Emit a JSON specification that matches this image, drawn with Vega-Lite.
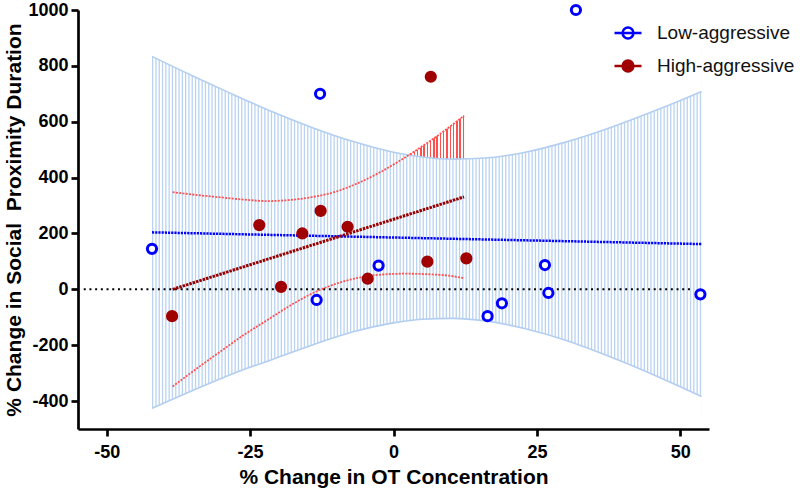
{
"$schema":"https://vega.github.io/schema/vega-lite/v6.json",
"width":631,"height":419,
"autosize":{"type":"none"},
"padding":{"left":78,"top":10,"right":91,"bottom":63},
"background":"white",
"config":{
 "view":{"stroke":null},
 "font":"Liberation Sans",
 "axis":{"domainColor":"#000000","domainWidth":2.7,"tickColor":"#000000","tickWidth":2.7,"tickSize":7,"labelFont":"Liberation Sans","labelFontSize":18,"labelFontWeight":"bold","labelColor":"#000000","titleFont":"Liberation Sans","titleFontSize":21,"titleFontWeight":"bold","titleColor":"#000000","grid":false,"labelFlush":false},
 "axisX":{"labelPadding":7,"titlePadding":5},
 "axisY":{"labelPadding":3,"titlePadding":3}
},
"datasets":{
 "points":[
  {"group":"Low-aggressive","x":-42.1,"y":145},
  {"group":"Low-aggressive","x":-12.8,"y":700},
  {"group":"Low-aggressive","x":-13.4,"y":-38},
  {"group":"Low-aggressive","x":-2.6,"y":85},
  {"group":"Low-aggressive","x":31.8,"y":1000},
  {"group":"Low-aggressive","x":16.4,"y":-96},
  {"group":"Low-aggressive","x":18.9,"y":-50},
  {"group":"Low-aggressive","x":26.4,"y":87},
  {"group":"Low-aggressive","x":27.0,"y":-13},
  {"group":"Low-aggressive","x":53.5,"y":-18},
  {"group":"High-aggressive","x":-38.6,"y":-96},
  {"group":"High-aggressive","x":-19.6,"y":9},
  {"group":"High-aggressive","x":-4.5,"y":38},
  {"group":"High-aggressive","x":-23.4,"y":230},
  {"group":"High-aggressive","x":-15.9,"y":200},
  {"group":"High-aggressive","x":-12.7,"y":281},
  {"group":"High-aggressive","x":-8.0,"y":224},
  {"group":"High-aggressive","x":5.9,"y":99},
  {"group":"High-aggressive","x":12.7,"y":111},
  {"group":"High-aggressive","x":6.5,"y":761}
 ],
 "blueband":[
  {"x":-42.1,"lo":-426,"up":834},
  {"x":-35,"lo":-362,"up":764},
  {"x":-28,"lo":-302,"up":698},
  {"x":-21,"lo":-250,"up":635},
  {"x":-14,"lo":-198,"up":578},
  {"x":-7,"lo":-152,"up":529},
  {"x":0,"lo":-120,"up":491},
  {"x":5,"lo":-107,"up":474},
  {"x":10.3,"lo":-104,"up":466},
  {"x":16,"lo":-113,"up":470},
  {"x":23,"lo":-141,"up":491},
  {"x":30,"lo":-182,"up":527},
  {"x":37,"lo":-235,"up":573},
  {"x":44,"lo":-294,"up":627},
  {"x":50,"lo":-349,"up":676},
  {"x":53.7,"lo":-384,"up":708}
 ],
 "redband":[
  {"x":-38.5,"lo":-348,"up":348},
  {"x":-34,"lo":-279,"up":337},
  {"x":-30,"lo":-220,"up":329},
  {"x":-26,"lo":-162,"up":321},
  {"x":-22,"lo":-110,"up":316},
  {"x":-18,"lo":-58,"up":320},
  {"x":-14,"lo":-13,"up":331},
  {"x":-10,"lo":20,"up":350},
  {"x":-6,"lo":42,"up":382},
  {"x":-2,"lo":53,"up":423},
  {"x":2,"lo":56,"up":472},
  {"x":6,"lo":54,"up":526},
  {"x":10,"lo":48,"up":585},
  {"x":12.3,"lo":40,"up":622}
 ],
 "redvisible":[
  {"x":2.6,"lo":481,"up":481},
  {"x":4,"lo":477,"up":498},
  {"x":6,"lo":472,"up":526},
  {"x":8,"lo":468,"up":555},
  {"x":10,"lo":466,"up":585},
  {"x":12.3,"lo":466,"up":622}
 ],
 "fits":[
  {"group":"Low-aggressive","x":-42.1,"y":204},
  {"group":"Low-aggressive","x":53.7,"y":162},
  {"group":"High-aggressive","x":-38.5,"y":0},
  {"group":"High-aggressive","x":12.3,"y":331}
 ]
},
"layer":[
 {"data":{"values":[{}]},
  "mark":{"type":"rule","stroke":"#b9d3f1","strokeWidth":380,"strokeDash":[1.3,2],"strokeCap":"butt"},
  "encoding":{"x":{"datum":-42.1,"type":"quantitative","scale":{"domain":[-55,55],"nice":false,"zero":false},"axis":{"values":[-50,-25,0,25,50],"title":"% Change in OT Concentration","labelExpr":"'' + datum.value"}},"x2":{"datum":53.7},"y":{"datum":204,"type":"quantitative","scale":{"domain":[-500,1000],"nice":false,"zero":false},"axis":{"values":[-400,-200,0,200,400,600,800,1000],"title":"% Change in Social\u00a0 Proximity Duration","labelExpr":"'' + datum.value"}}}},
 {"data":{"name":"blueband"},
  "mark":{"type":"area","fill":"#ffffff","interpolate":"monotone"},
  "encoding":{"x":{"field":"x","type":"quantitative","scale":{"domain":[-55,55],"nice":false,"zero":false},"axis":{"values":[-50,-25,0,25,50],"title":"% Change in OT Concentration","labelExpr":"'' + datum.value"}},"y":{"field":"up","type":"quantitative","scale":{"domain":[-500,1000],"nice":false,"zero":false},"axis":{"values":[-400,-200,0,200,400,600,800,1000],"title":"% Change in Social\u00a0 Proximity Duration","labelExpr":"'' + datum.value"}},"y2":{"datum":1000}}},
 {"data":{"name":"blueband"},
  "mark":{"type":"area","fill":"#ffffff","interpolate":"monotone"},
  "encoding":{"x":{"field":"x","type":"quantitative","scale":{"domain":[-55,55],"nice":false,"zero":false},"axis":{"values":[-50,-25,0,25,50],"title":"% Change in OT Concentration","labelExpr":"'' + datum.value"}},"y":{"field":"lo","type":"quantitative","scale":{"domain":[-500,1000],"nice":false,"zero":false},"axis":{"values":[-400,-200,0,200,400,600,800,1000],"title":"% Change in Social\u00a0 Proximity Duration","labelExpr":"'' + datum.value"}},"y2":{"datum":-480}}},
 {"data":{"name":"redvisible"},
  "mark":{"type":"area","interpolate":"monotone","fill":{"gradient":"linear","x1":0,"y1":0,"x2":1,"y2":0,"stops":[
   {"offset":0,"color":"#ffffff"},{"offset":0.0341,"color":"#ffffff"},{"offset":0.0341,"color":"#ff5050"},{"offset":0.0588,"color":"#ff5050"},
   {"offset":0.0588,"color":"#ffffff"},{"offset":0.0929,"color":"#ffffff"},{"offset":0.0929,"color":"#ff5050"},{"offset":0.1176,"color":"#ff5050"},
   {"offset":0.1176,"color":"#ffffff"},{"offset":0.1517,"color":"#ffffff"},{"offset":0.1517,"color":"#ff5050"},{"offset":0.1765,"color":"#ff5050"},
   {"offset":0.1765,"color":"#ffffff"},{"offset":0.2106,"color":"#ffffff"},{"offset":0.2106,"color":"#ff5050"},{"offset":0.2353,"color":"#ff5050"},
   {"offset":0.2353,"color":"#ffffff"},{"offset":0.2694,"color":"#ffffff"},{"offset":0.2694,"color":"#ff5050"},{"offset":0.2941,"color":"#ff5050"},
   {"offset":0.2941,"color":"#ffffff"},{"offset":0.3282,"color":"#ffffff"},{"offset":0.3282,"color":"#ff5050"},{"offset":0.3529,"color":"#ff5050"},
   {"offset":0.3529,"color":"#ffffff"},{"offset":0.3870,"color":"#ffffff"},{"offset":0.3870,"color":"#ff5050"},{"offset":0.4118,"color":"#ff5050"},
   {"offset":0.4118,"color":"#ffffff"},{"offset":0.4459,"color":"#ffffff"},{"offset":0.4459,"color":"#ff5050"},{"offset":0.4706,"color":"#ff5050"},
   {"offset":0.4706,"color":"#ffffff"},{"offset":0.5047,"color":"#ffffff"},{"offset":0.5047,"color":"#ff5050"},{"offset":0.5294,"color":"#ff5050"},
   {"offset":0.5294,"color":"#ffffff"},{"offset":0.5635,"color":"#ffffff"},{"offset":0.5635,"color":"#ff5050"},{"offset":0.5882,"color":"#ff5050"},
   {"offset":0.5882,"color":"#ffffff"},{"offset":0.6223,"color":"#ffffff"},{"offset":0.6223,"color":"#ff5050"},{"offset":0.6471,"color":"#ff5050"},
   {"offset":0.6471,"color":"#ffffff"},{"offset":0.6812,"color":"#ffffff"},{"offset":0.6812,"color":"#ff5050"},{"offset":0.7059,"color":"#ff5050"},
   {"offset":0.7059,"color":"#ffffff"},{"offset":0.7400,"color":"#ffffff"},{"offset":0.7400,"color":"#ff5050"},{"offset":0.7647,"color":"#ff5050"},
   {"offset":0.7647,"color":"#ffffff"},{"offset":0.7988,"color":"#ffffff"},{"offset":0.7988,"color":"#ff5050"},{"offset":0.8235,"color":"#ff5050"},
   {"offset":0.8235,"color":"#ffffff"},{"offset":0.8576,"color":"#ffffff"},{"offset":0.8576,"color":"#ff5050"},{"offset":0.8824,"color":"#ff5050"},
   {"offset":0.8824,"color":"#ffffff"},{"offset":0.9165,"color":"#ffffff"},{"offset":0.9165,"color":"#ff5050"},{"offset":0.9412,"color":"#ff5050"},
   {"offset":0.9412,"color":"#ffffff"},{"offset":0.9753,"color":"#ffffff"},{"offset":0.9753,"color":"#ff5050"},{"offset":1,"color":"#ff5050"}
  ]}},
  "encoding":{"x":{"field":"x","type":"quantitative","scale":{"domain":[-55,55],"nice":false,"zero":false},"axis":{"values":[-50,-25,0,25,50],"title":"% Change in OT Concentration","labelExpr":"'' + datum.value"}},"y":{"field":"up","type":"quantitative","scale":{"domain":[-500,1000],"nice":false,"zero":false},"axis":{"values":[-400,-200,0,200,400,600,800,1000],"title":"% Change in Social\u00a0 Proximity Duration","labelExpr":"'' + datum.value"}},"y2":{"field":"lo"}}},
 {"data":{"name":"blueband"},
  "mark":{"type":"line","stroke":"#b3cef0","strokeWidth":1.6,"interpolate":"monotone"},
  "encoding":{"x":{"field":"x","type":"quantitative","scale":{"domain":[-55,55],"nice":false,"zero":false},"axis":{"values":[-50,-25,0,25,50],"title":"% Change in OT Concentration","labelExpr":"'' + datum.value"}},"y":{"field":"up","type":"quantitative","scale":{"domain":[-500,1000],"nice":false,"zero":false},"axis":{"values":[-400,-200,0,200,400,600,800,1000],"title":"% Change in Social\u00a0 Proximity Duration","labelExpr":"'' + datum.value"}}}},
 {"data":{"name":"blueband"},
  "mark":{"type":"line","stroke":"#b3cef0","strokeWidth":1.6,"interpolate":"monotone"},
  "encoding":{"x":{"field":"x","type":"quantitative","scale":{"domain":[-55,55],"nice":false,"zero":false},"axis":{"values":[-50,-25,0,25,50],"title":"% Change in OT Concentration","labelExpr":"'' + datum.value"}},"y":{"field":"lo","type":"quantitative","scale":{"domain":[-500,1000],"nice":false,"zero":false},"axis":{"values":[-400,-200,0,200,400,600,800,1000],"title":"% Change in Social\u00a0 Proximity Duration","labelExpr":"'' + datum.value"}}}},
 {"data":{"values":[{}]},
  "mark":{"type":"rule","stroke":"#000000","strokeWidth":2,"strokeDash":[2,3.7],"strokeCap":"butt"},
  "encoding":{"x":{"datum":-54,"type":"quantitative","scale":{"domain":[-55,55],"nice":false,"zero":false},"axis":{"values":[-50,-25,0,25,50],"title":"% Change in OT Concentration","labelExpr":"'' + datum.value"}},"x2":{"datum":52.2},"y":{"datum":0,"type":"quantitative","scale":{"domain":[-500,1000],"nice":false,"zero":false},"axis":{"values":[-400,-200,0,200,400,600,800,1000],"title":"% Change in Social\u00a0 Proximity Duration","labelExpr":"'' + datum.value"}}}},
 {"data":{"name":"redband"},
  "mark":{"type":"line","stroke":"#ff5050","strokeWidth":1.8,"strokeDash":[2,1.3],"interpolate":"monotone"},
  "encoding":{"x":{"field":"x","type":"quantitative","scale":{"domain":[-55,55],"nice":false,"zero":false},"axis":{"values":[-50,-25,0,25,50],"title":"% Change in OT Concentration","labelExpr":"'' + datum.value"}},"y":{"field":"up","type":"quantitative","scale":{"domain":[-500,1000],"nice":false,"zero":false},"axis":{"values":[-400,-200,0,200,400,600,800,1000],"title":"% Change in Social\u00a0 Proximity Duration","labelExpr":"'' + datum.value"}}}},
 {"data":{"name":"redband"},
  "mark":{"type":"line","stroke":"#ff5050","strokeWidth":1.8,"strokeDash":[2,1.3],"interpolate":"monotone"},
  "encoding":{"x":{"field":"x","type":"quantitative","scale":{"domain":[-55,55],"nice":false,"zero":false},"axis":{"values":[-50,-25,0,25,50],"title":"% Change in OT Concentration","labelExpr":"'' + datum.value"}},"y":{"field":"lo","type":"quantitative","scale":{"domain":[-500,1000],"nice":false,"zero":false},"axis":{"values":[-400,-200,0,200,400,600,800,1000],"title":"% Change in Social\u00a0 Proximity Duration","labelExpr":"'' + datum.value"}}}},
 {"data":{"name":"fits"},
  "transform":[{"filter":"datum.group === 'Low-aggressive'"}],
  "mark":{"type":"line","stroke":"#0000ff","strokeWidth":2.5,"strokeDash":[2.2,1]},
  "encoding":{"x":{"field":"x","type":"quantitative","scale":{"domain":[-55,55],"nice":false,"zero":false},"axis":{"values":[-50,-25,0,25,50],"title":"% Change in OT Concentration","labelExpr":"'' + datum.value"}},"y":{"field":"y","type":"quantitative","scale":{"domain":[-500,1000],"nice":false,"zero":false},"axis":{"values":[-400,-200,0,200,400,600,800,1000],"title":"% Change in Social\u00a0 Proximity Duration","labelExpr":"'' + datum.value"}}}},
 {"data":{"name":"fits"},
  "transform":[{"filter":"datum.group === 'High-aggressive'"}],
  "mark":{"type":"line","stroke":"#990000","strokeWidth":3,"strokeDash":[2.5,1]},
  "encoding":{"x":{"field":"x","type":"quantitative","scale":{"domain":[-55,55],"nice":false,"zero":false},"axis":{"values":[-50,-25,0,25,50],"title":"% Change in OT Concentration","labelExpr":"'' + datum.value"}},"y":{"field":"y","type":"quantitative","scale":{"domain":[-500,1000],"nice":false,"zero":false},"axis":{"values":[-400,-200,0,200,400,600,800,1000],"title":"% Change in Social\u00a0 Proximity Duration","labelExpr":"'' + datum.value"}}}},
 {"data":{"name":"points"},
  "mark":{"type":"point","filled":true,"size":85,"strokeWidth":3,"opacity":1},
  "encoding":{
   "x":{"field":"x","type":"quantitative","scale":{"domain":[-55,55],"nice":false,"zero":false},"axis":{"values":[-50,-25,0,25,50],"title":"% Change in OT Concentration","labelExpr":"'' + datum.value"}},
   "y":{"field":"y","type":"quantitative","scale":{"domain":[-500,1000],"nice":false,"zero":false},"axis":{"values":[-400,-200,0,200,400,600,800,1000],"title":"% Change in Social\u00a0 Proximity Duration","labelExpr":"'' + datum.value"}},
   "stroke":{"field":"group","type":"nominal","scale":{"domain":["Low-aggressive","High-aggressive"],"range":["#0000ff","#a00000"]},"legend":{"title":null,"orient":"none","legendX":535,"legendY":8,"symbolType":"M-1,0H1M0.4,0A0.4,0.4 0 1,1 -0.4,0A0.4,0.4 0 1,1 0.4,0","symbolSize":729,"symbolStrokeWidth":2.5,"labelFont":"Liberation Sans","labelFontSize":19,"labelColor":"#111111","labelOffset":14,"rowPadding":7,"padding":0}},
   "fill":{"field":"group","type":"nominal","scale":{"domain":["Low-aggressive","High-aggressive"],"range":["#ffffff","#a00000"]},"legend":{"title":null,"orient":"none","legendX":535,"legendY":8,"symbolType":"M-1,0H1M0.4,0A0.4,0.4 0 1,1 -0.4,0A0.4,0.4 0 1,1 0.4,0","symbolSize":729,"symbolStrokeWidth":2.5,"labelFont":"Liberation Sans","labelFontSize":19,"labelColor":"#111111","labelOffset":14,"rowPadding":7,"padding":0}}
  }}
]
}
